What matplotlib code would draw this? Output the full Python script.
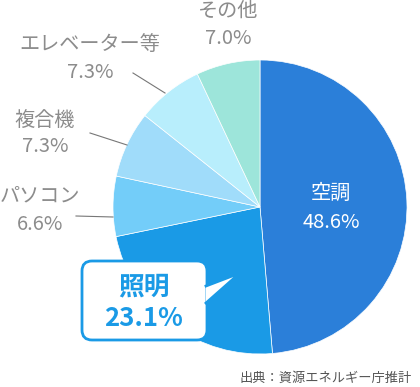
import matplotlib.pyplot as plt
from matplotlib.patches import FancyBboxPatch, Polygon

plt.rcParams['font.family'] = ['Noto Sans CJK JP', 'DejaVu Sans']

# データ
labels = ["空調", "照明", "パソコン", "複合機", "エレベーター等", "その他"]
shares = [48.6, 23.1, 6.6, 7.3, 7.3, 7.0]
colors = ["#2b7fd9", "#1a9ae6", "#73cdf9", "#a0dcfa", "#b8eefc", "#9de5da"]

gray = "#8c8c8c"
blue = "#1a9ae6"

fig = plt.figure(figsize=(4.2, 3.87), dpi=100)
ax = fig.add_axes([0, 0, 1, 1])

# y 軸が反転しているので、見た目は上から時計回り
ax.pie(shares, colors=colors, center=(260, 207), radius=147,
       startangle=-90, counterclock=True, frame=True,
       wedgeprops=dict(edgecolor="white", linewidth=0.5))
ax.set_xlim(0, 420)
ax.set_ylim(387, 0)  # ピクセル座標（y は下向き）
ax.set_aspect('equal')
ax.axis('off')

# 空調ラベル
ax.text(331, 193, labels[0], color="white", fontsize=14.5, ha="center", va="center")
ax.text(331, 222, f"{shares[0]}%", color="white", fontsize=14.5, ha="center", va="center")

# 外側ラベル
outer = [
    (2, 40, 196, 224, (76, 216), (113, 217)),
    (3, 45, 120, 146, (90, 133), (127, 145)),
    (4, 90, 45, 72, (133, 73), (165, 93)),
    (5, 228, 11, 38, None, None),
]
for i, x, y1, y2, p0, p1 in outer:
    ax.text(x, y1, labels[i], color=gray, fontsize=14.5, ha="center", va="center")
    ax.text(x, y2, f"{shares[i]}%", color=gray, fontsize=14.5, ha="center", va="center")
    if p0 is not None:
        ax.plot([p0[0], p1[0]], [p0[1], p1[1]], color="#777777", lw=0.8)

# 照明の吹き出し
box = FancyBboxPatch((82, 261), 125, 79, boxstyle="round,pad=0,rounding_size=10",
                     facecolor="white", edgecolor=blue, linewidth=2, zorder=5)
ax.add_patch(box)
tip = [(206, 286), (240, 273), (206, 303)]
ax.add_patch(Polygon(tip, closed=True, facecolor="white", edgecolor="none", zorder=6))
ax.plot([t[0] for t in tip], [t[1] for t in tip], color=blue, lw=2, zorder=7,
        solid_joinstyle="miter")
ax.text(144, 287, labels[1], color=blue, fontsize=18.5, fontweight="bold",
        ha="center", va="center", zorder=8)
ax.text(144, 318, f"{shares[1]}%", color=blue, fontsize=18.5, fontweight="bold",
        ha="center", va="center", zorder=8)

# 出典
ax.text(412, 378, "出典：資源エネルギー庁推計", color="#555555", fontsize=9.5,
        ha="right", va="center")

fig.savefig("out.png", dpi=100)
